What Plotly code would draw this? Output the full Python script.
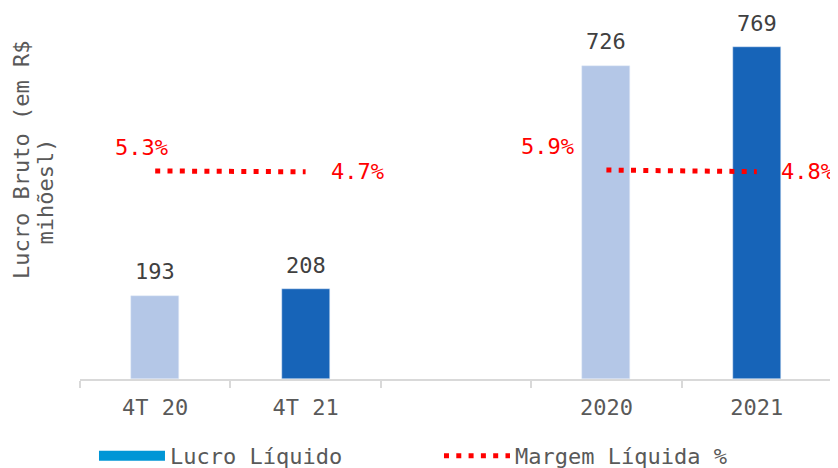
import plotly.graph_objects as go

categories = ["4T 20", "4T 21", " ", "2020", "2021"]
bar_cats = ["4T 20", "4T 21", "2020", "2021"]
lucro = [193, 208, 726, 769]
bar_colors = ["#b4c7e7", "#1764b8", "#b4c7e7", "#1764b8"]
margem_groups = [(["4T 20", "4T 21"], [5.3, 4.7]), (["2020", "2021"], [5.9, 4.8])]
margem_labels = [["5.3%", "4.7%"], ["5.9%", "4.8%"]]
label_shifts = [[(-14, 23), (52, 0)], [(-59, 24), (51, 0)]]
ytitle_lines = ["Lucro Bruto (em R$", "mihõesl)"]

FONT = "DejaVu Sans Mono"
GREY = "#595959"

fig = go.Figure()
fig.add_trace(go.Bar(
    x=bar_cats, y=lucro, marker_color=bar_colors, width=0.32,
    showlegend=False, hoverinfo="skip"))

for c, v in zip(bar_cats, lucro):
    fig.add_annotation(
        x=categories.index(c), y=v, text=str(v), showarrow=False,
        yanchor="middle", yshift=24,
        font=dict(family=FONT, size=22, color="#404040"))

# legend-only entry for bars
fig.add_trace(go.Scatter(
    x=[None], y=[None], mode="lines", name="Lucro Líquido",
    line=dict(color="#0096d6", width=12)))

for i, (xs, ys) in enumerate(margem_groups):
    fig.add_trace(go.Scatter(
        x=xs, y=ys, yaxis="y2", mode="lines", name="Margem Líquida %",
        line=dict(color="#ff0000", width=5, dash="5px,7.3px"),
        showlegend=(i == 0), hoverinfo="skip"))
    for j in range(2):
        dx, dy = label_shifts[i][j]
        fig.add_annotation(
            x=categories.index(xs[j]), y=ys[j], yref="y2", text=margem_labels[i][j],
            showarrow=False, xshift=dx, yshift=dy,
            font=dict(family=FONT, size=22, color="#ff0000"))

# y-axis title (two lines)
for txt, yp, xs_ in zip(ytitle_lines, [0.610, 0.521], [-59, -34.5]):
    fig.add_annotation(
        xref="paper", yref="paper", x=0, y=yp, xshift=xs_,
        text=txt, textangle=-90, showarrow=False,
        font=dict(family=FONT, size=22, color=GREY),
        xanchor="center", yanchor="middle")

fig.update_layout(
    width=830, height=460,
    margin=dict(l=72, r=6, t=12, b=89, autoexpand=False),
    plot_bgcolor="white", paper_bgcolor="white",
    font=dict(family=FONT, color=GREY),
    xaxis=dict(type="category", categoryorder="array", categoryarray=categories,
               range=[-0.5, 4.5], tickson="boundaries", ticks="outside",
               ticklen=7, tickwidth=2, tickcolor="#d9d9d9",
               showline=True, linecolor="#d9d9d9", linewidth=2,
               ticklabelstandoff=8,
               showgrid=False, tickfont=dict(family=FONT, size=22, color=GREY)),
    yaxis=dict(range=[0, 832], visible=False, showgrid=False),
    yaxis2=dict(range=[-139.6, 110.4], overlaying="y", visible=False, showgrid=False),
    legend=dict(orientation="h", xref="container", yref="container",
                x=0.1036, y=0.026, xanchor="left", yanchor="middle",
                font=dict(family=FONT, size=22, color=GREY), itemwidth=66,
                entrywidth=264, tracegroupgap=0),
    bargap=0,
)

fig.write_html("out.html")
